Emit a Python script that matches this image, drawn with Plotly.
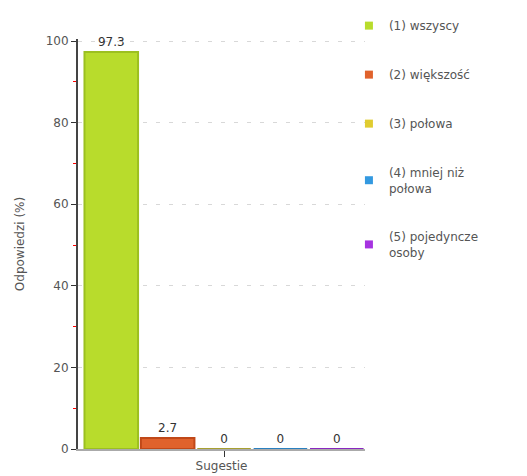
import plotly.graph_objects as go

category = ["Sugestie"]
series_names = ["(1) wszyscy", "(2) większość", "(3) połowa", "(4) mniej niż<br>połowa", "(5) pojedyncze<br>osoby"]
values = [97.3, 2.7, 0, 0, 0]
labels = ["97.3", "2.7", "0", "0", "0"]
fill_colors = ["#b8dc2c", "#e0622c", "#e0cc30", "#3399e0", "#a633e0"]
edge_colors = ["#9cc020", "#c04818", "#a8a030", "#2a80c0", "#8a28c0"]
y_ticks = [0, 20, 40, 60, 80, 100]
y_minor = [10, 30, 50, 70, 90]

fig = go.Figure()
for i, name in enumerate(series_names):
    fig.add_trace(go.Bar(
        x=category, y=[values[i]], name=name,
        text=[labels[i]], textposition="outside", cliponaxis=False,
        textfont=dict(family="DejaVu Sans", size=12, color="#333333"),
        marker=dict(color=fill_colors[i], line=dict(color=edge_colors[i], width=2)),
        showlegend=False,
    ))
# legend entries (small square swatches)
for i, name in enumerate(series_names):
    fig.add_trace(go.Scatter(
        x=[None], y=[None], mode="markers", name=name,
        marker=dict(symbol="square", size=8, color=fill_colors[i]),
        legendgroup=str(i), showlegend=True,
    ))

# page body has an 8px margin, so the figure is sized/offset to compensate
fig.update_layout(
    width=519, height=468,
    margin=dict(l=70, r=162, t=31, b=27, autoexpand=False),
    paper_bgcolor="white", plot_bgcolor="white",
    barmode="group", bargap=0.0, bargroupgap=0.05,
    font=dict(family="DejaVu Sans", size=12, color="#555555"),
    showlegend=True,
    legend=dict(x=0.944, xanchor="left", y=1.068, yanchor="top",
                font=dict(family="DejaVu Sans", size=12, color="#555555"),
                tracegroupgap=30, itemwidth=30, bgcolor="rgba(0,0,0,0)",
                maxheight=460),
)
fig.update_xaxes(
    range=[-0.518, 0.5],
    showline=True, linecolor="#aaaaaa", linewidth=2,
    ticks="outside", tickcolor="#333333", ticklen=6, tickwidth=1,
    showgrid=False,
    title=dict(text="Sugestie", standoff=0, font=dict(size=12, color="#555555")),
    tickfont=dict(color="rgba(0,0,0,0)", size=1),
)
fig.update_yaxes(
    range=[0, 100.5], tickvals=y_ticks,
    showline=True, linecolor="#444444", linewidth=2,
    ticks="outside", tickcolor="#333333", ticklen=5,
    showgrid=True, gridcolor="#d8d8d8", griddash="4px,9px", gridwidth=1,
    zeroline=False,
    minor=dict(tickvals=y_minor, ticks="outside", ticklen=3, tickcolor="red", showgrid=False),
    title=dict(text="Odpowiedzi (%)", standoff=18, font=dict(size=12, color="#555555")),
    tickfont=dict(size=12, color="#555555"),
)

fig.write_html("out.html")
